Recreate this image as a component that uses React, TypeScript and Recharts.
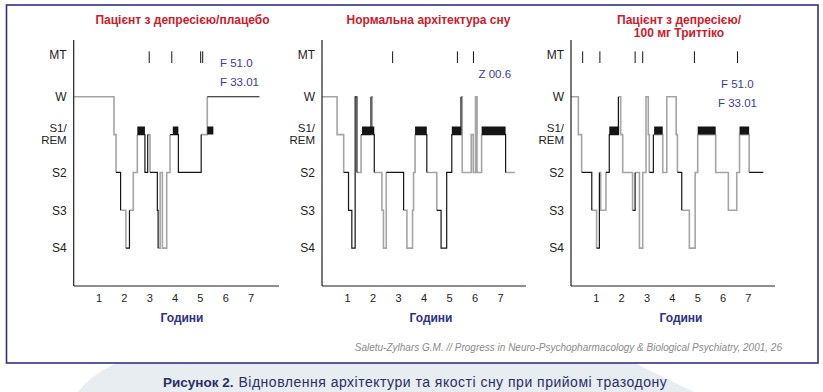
import React from "react";
import { ComposedChart, Line, XAxis, YAxis } from "recharts";

// stage scale: 0 = S4 ... 4 = W, 5 = movement time
const STAGE_LABELS = ["S4", "S3", "S2", "S1/REM", "W", "MT"];
const STAGE_TICKS = [0, 1, 2, 3, 4, 5];
const HOUR_TICKS = [1, 2, 3, 4, 5, 6, 7];

// depressed patient / placebo
const placeboStart = [0, 1.59, 1.67, 1.85, 2.06, 2.2, 2.35, 2.51, 2.81, 2.92, 3.01, 3.3, 3.33, 3.41, 3.5, 3.67, 3.8, 4.13, 5.03, 5.27];
const placeboStage = [4, 3, 2, 1, 0, 1, 2, 3, 2, 3, 2, 1, 0, 2, 0, 2, 3, 2, 3, 4];
const placeboInk = [0, 0, 1, 0, 1, 0, 0, 1, 1, 0, 1, 1, 0, 0, 0, 0, 1, 1, 0, 1];
const placeboEnd = 7.33;
const placeboRem = [[2.51, 2.81], [3.91, 4.13], [5.27, 5.51]];
const placeboMoves = [2.98, 3.87, 5.01, 5.09];

// normal sleep
const normalStart = [0, 0.59, 0.85, 1.04, 1.17, 1.3, 1.37, 1.53, 1.92, 1.97, 2.05, 2.35, 2.41, 2.52, 3.2, 3.33, 3.55, 3.59, 3.65, 4.11, 4.5, 4.67, 4.89, 5.09, 5.45, 5.5, 5.85, 5.93, 6.02, 6.08, 6.26, 7.2];
const normalStage = [4, 3, 2, 1, 0, 4, 2, 3, 4, 3, 2, 1, 0, 2, 1, 0, 1, 2, 3, 2, 1, 0, 2, 3, 4, 2, 3, 2, 4, 2, 3, 2];
const normalInk = [0, 0, 1, 1, 1, 1, 0, 1, 0, 1, 0, 0, 0, 1, 0, 0, 0, 0, 1, 0, 1, 1, 1, 1, 0, 0, 0, 0, 0, 0, 1, 0];
const normalEnd = 7.57;
const normalRem = [[1.57, 2.05], [3.65, 4.11], [5.09, 5.45], [6.26, 7.2]];
const normalMoves = [2.77, 5.31, 5.94];

// depressed patient / trittico 100 mg
const trittStart = [0, 0.29, 0.42, 0.82, 1.01, 1.12, 1.17, 1.38, 1.51, 1.87, 1.96, 2.04, 2.43, 2.53, 2.7, 2.83, 2.96, 3.05, 3.09, 3.25, 3.62, 3.78, 4.15, 4.2, 4.37, 4.67, 4.9, 5.0, 5.71, 6.21, 6.54, 6.65, 7.03];
const trittStage = [4, 3, 2, 1, 0, 2, 1, 2, 3, 4, 3, 2, 1, 2, 0, 2, 4, 3, 2, 3, 2, 4, 3, 2, 1, 0, 2, 3, 2, 1, 2, 3, 2];
const trittInk = [0, 0, 1, 0, 1, 0, 0, 1, 1, 0, 0, 0, 1, 0, 0, 0, 0, 0, 1, 0, 0, 0, 0, 1, 0, 0, 0, 0, 0, 0, 0, 0, 1];
const trittEnd = 7.59;
const trittRem = [[1.51, 1.9], [3.28, 3.62], [5.0, 5.71], [6.65, 7.03]];
const trittMoves = [0.46, 1.14, 2.53, 2.83, 4.87, 6.57];

const REM_BAR = 3.11;
const MT_LOW = 4.89;
const MT_HIGH = 5.2;

const FONT = '"Liberation Sans", Arial, Helvetica, sans-serif';
const NAVY = "#2f3185";
const RED = "#c8202f";
const NOTE = "#3b3b98";

type Row = { t: number; pale: number | null; ink: number | null; rem: number | null; mt: number | null };
type Key = "pale" | "ink" | "rem" | "mt";

function buildRows(
  start: number[],
  stage: number[],
  ink: number[],
  end: number,
  rem: number[][],
  moves: number[],
): Row[] {
  const rows: Row[] = [];
  const blank = (t: number): Row => ({ t, pale: null, ink: null, rem: null, mt: null });
  const put = (t: number, key: Key, v: number) => {
    const r = blank(t);
    r[key] = v;
    rows.push(r);
  };
  start.forEach((s, i) => {
    const key: Key = ink[i] ? "ink" : "pale";
    const last = i === start.length - 1;
    const e = last ? end : start[i + 1];
    if (i === 0 || ink[i] !== ink[i - 1]) put(s, key, stage[i]);
    put(e, key, stage[i]);
    if (!last) put(e, key, stage[i + 1]);
  });
  rem.forEach(([a, b]) => {
    put(a, "rem", REM_BAR);
    put(b, "rem", REM_BAR);
    rows.push(blank(b));
  });
  moves.forEach((m) => {
    put(m, "mt", MT_LOW);
    put(m, "mt", MT_HIGH);
    rows.push(blank(m));
  });
  return rows;
}

function renderStageTick(props: any) {
  const { x, y, payload } = props;
  const label = STAGE_LABELS[payload.value];
  const tx = x + 1;
  const common = { textAnchor: "end" as const, fill: "#222", fontSize: 12, fontFamily: FONT };
  if (label === "S1/REM") {
    return (
      <g>
        <text x={tx} y={y - 7} dy={4} {...common} fontSize={11.5}>S1/</text>
        <text x={tx} y={y + 5.5} dy={4} {...common} fontSize={11.5}>REM</text>
      </g>
    );
  }
  const shift = label === "MT" ? -4 : 0;
  return (
    <text x={tx} y={y + shift} dy={4.2} {...common}>
      {label}
    </text>
  );
}

type PanelProps = {
  rows: Row[];
  left: number;
  width: number;
  axisWidth: number;
  right: number;
  xMax: number;
};

function Hypnogram({ rows, left, width, axisWidth, right, xMax }: PanelProps) {
  const axisLine = { stroke: "#1e1e1e", strokeWidth: 1.2 };
  return (
    <div style={{ position: "absolute", left, top: 0 }}>
      <ComposedChart width={width} height={312} data={rows} margin={{ top: 40, right, bottom: 12, left: 0 }}>
        <XAxis
          dataKey="t"
          type="number"
          domain={[0, xMax]}
          ticks={HOUR_TICKS}
          interval={0}
          allowDataOverflow
          tickLine={false}
          axisLine={axisLine}
          height={14}
          tick={{ fill: "#222", fontSize: 11, fontFamily: FONT }}
        />
        <YAxis
          type="number"
          domain={[-1, 5.5]}
          ticks={STAGE_TICKS}
          interval={0}
          allowDataOverflow
          tickLine={false}
          axisLine={axisLine}
          width={axisWidth}
          tick={renderStageTick}
        />
        <Line dataKey="pale" type="linear" stroke="#a5a5a5" strokeWidth={1.6} dot={false} activeDot={false} isAnimationActive={false} />
        <Line dataKey="ink" type="linear" stroke="#151515" strokeWidth={1.2} dot={false} activeDot={false} isAnimationActive={false} />
        <Line dataKey="rem" type="linear" stroke="#151515" strokeWidth={8} strokeLinecap="butt" dot={false} activeDot={false} isAnimationActive={false} />
        <Line dataKey="mt" type="linear" stroke="#151515" strokeWidth={1} dot={false} activeDot={false} isAnimationActive={false} />
      </ComposedChart>
    </div>
  );
}

export default function App() {
  const placebo = buildRows(placeboStart, placeboStage, placeboInk, placeboEnd, placeboRem, placeboMoves);
  const normal = buildRows(normalStart, normalStage, normalInk, normalEnd, normalRem, normalMoves);
  const tritt = buildRows(trittStart, trittStage, trittInk, trittEnd, trittRem, trittMoves);

  const title = { fill: RED, fontSize: 12, fontWeight: 700, textAnchor: "middle" as const, dominantBaseline: "central" as const };
  const hours = { fill: NAVY, fontSize: 12, fontWeight: 700, textAnchor: "middle" as const, dominantBaseline: "central" as const };
  const note = { fill: NOTE, fontSize: 11.5, dominantBaseline: "central" as const };

  return (
    <div style={{ position: "absolute", left: 0, top: 0, width: 823, height: 392, background: "#fff", overflow: "hidden", fontFamily: FONT }}>
      <svg width={823} height={392} style={{ position: "absolute", left: 0, top: 0 }} fontFamily={FONT}>
        <path d="M 78 392 Q 98 365 150 352 L 612 352 L 694 392 Z" fill="#e8edf2" />
        <rect x={6.5} y={5} width={811.5} height={358} fill="#fff" stroke={NAVY} strokeWidth={1.6} />

        <text x={182.5} y={20} {...title}>Пацієнт з депресією/плацебо</text>
        <text x={428.5} y={20} {...title}>Нормальна архітектура сну</text>
        <text x={679} y={20} {...title}>Пацієнт з депресією/</text>
        <text x={679} y={33} {...title}>100 мг Триттіко</text>

        <text x={220} y={62.5} {...note}>F 51.0</text>
        <text x={220} y={81.5} {...note}>F 33.01</text>
        <text x={478.5} y={74} {...note}>Z 00.6</text>
        <text x={721} y={84} {...note}>F 51.0</text>
        <text x={718} y={103} {...note}>F 33.01</text>

        <text x={182} y={318} {...hours}>Години</text>
        <text x={431} y={318} {...hours}>Години</text>
        <text x={681} y={318} {...hours}>Години</text>

        <text x={782} y={347} textAnchor="end" dominantBaseline="central" fill="#8a8a8a" fontSize={10} fontStyle="italic">
          Saletu-Zylhars G.M. // Progress in Neuro-Psychopharmacology &amp; Biological Psychiatry, 2001, 26
        </text>

        <text x={163} y={382} dominantBaseline="central" fontSize={13.5} fill="#2b2d66">
          <tspan fontWeight={700}>Рисунок 2.</tspan>
          <tspan dx={5} fontSize={14} letterSpacing={0.5}>Відновлення архітектури та якості сну при прийомі тразодону</tspan>
        </text>
      </svg>

      <Hypnogram rows={placebo} left={0} width={290} axisWidth={73.7} right={11} xMax={8.1} />
      <Hypnogram rows={normal} left={270} width={270} axisWidth={52} right={14} xMax={8.0} />
      <Hypnogram rows={tritt} left={520} width={270} axisWidth={51} right={15} xMax={8.05} />
    </div>
  );
}
